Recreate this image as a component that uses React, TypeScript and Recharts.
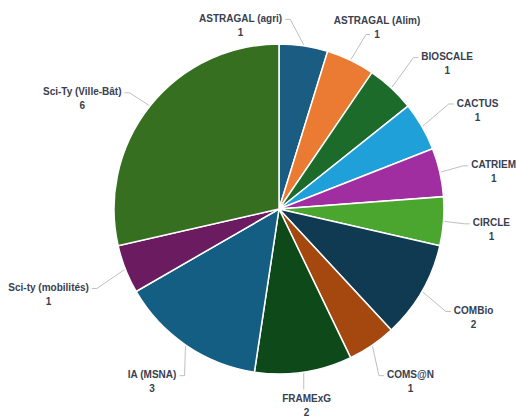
import { PieChart, Pie, Cell } from "recharts";

const projects = [
  "ASTRAGAL (agri)",
  "ASTRAGAL (Alim)",
  "BIOSCALE",
  "CACTUS",
  "CATRIEM",
  "CIRCLE",
  "COMBio",
  "COMS@N",
  "FRAMExG",
  "IA (MSNA)",
  "Sci-ty (mobilités)",
  "Sci-Ty (Ville-Bât)",
];
const counts = [1, 1, 1, 1, 1, 1, 2, 1, 2, 3, 1, 6];

const COLORS = [
  "#1b5c82",
  "#eb7a32",
  "#1d6b2a",
  "#20a0d8",
  "#a02ea0",
  "#4ba630",
  "#0f3a52",
  "#a4480f",
  "#0e4a19",
  "#145d83",
  "#6b1c60",
  "#356f1f",
];

// label block nudges (dx, dy) from the default spot around the pie
const LABEL_NUDGE: [number, number][] = [
  [-70, 26],
  [6, 9.5],
  [24, 10],
  [15, 7],
  [8, 10],
  [1, 5],
  [11, 2.5],
  [12, -2.5],
  [-4, -13],
  [-7.5, -2.5],
  [-33, 8],
  [-31, 22],
];

const data = projects.map((name, i) => ({ name, value: counts[i] }));

const FONT = "'Liberation Sans', Arial, sans-serif";
const RAD = Math.PI / 180;

let ctx: CanvasRenderingContext2D | null = null;
function textWidth(s: string) {
  if (!ctx) ctx = document.createElement("canvas").getContext("2d");
  if (!ctx) return s.length * 5.3;
  ctx.font = `bold 10px ${FONT}`;
  return ctx.measureText(s).width;
}

function renderLabel(props: any) {
  const { cx, cy, midAngle, outerRadius, index, name, value } = props;
  const cos = Math.cos(-midAngle * RAD);
  const sin = Math.sin(-midAngle * RAD);
  const R = outerRadius + 47;
  const [dx, dy] = LABEL_NUDGE[index];
  const tx = cx + R * cos + dx;
  const ty = cy + R * sin + dy;
  const ex = cx + (outerRadius + 1) * cos;
  const ey = cy + (outerRadius + 1) * sin;
  const hw = textWidth(name) / 2;

  let end: [number, number];
  let elbow: [number, number];
  if (tx - hw > ex + 4) {
    end = [tx - hw - 3, ty - 6];
    elbow = [end[0] - 5, end[1]];
  } else if (tx + hw < ex - 4) {
    end = [tx + hw + 3, ty - 6];
    elbow = [end[0] + 5, end[1]];
  } else if (ty < ey) {
    end = [tx - 7, ty + 7];
    elbow = [end[0] - 4, end[1]];
  } else {
    end = [ex, ty - 16];
    elbow = end;
  }

  return (
    <g>
      <polyline
        points={`${ex},${ey} ${elbow[0]},${elbow[1]} ${end[0]},${end[1]}`}
        fill="none"
        stroke="#bfbfbf"
        strokeWidth={1}
      />
      <text
        x={tx}
        y={ty - 7}
        textAnchor="middle"
        dominantBaseline="central"
        fill="#39404f"
        fontSize={10}
        fontWeight="bold"
        fontFamily={FONT}
      >
        {name}
      </text>
      <text
        x={tx}
        y={ty + 7}
        textAnchor="middle"
        dominantBaseline="central"
        fill="#39404f"
        fontSize={10}
        fontWeight="bold"
        fontFamily={FONT}
      >
        {value}
      </text>
    </g>
  );
}

export default function App() {
  return (
    <div style={{ position: "absolute", left: 0, top: 0, width: 516, height: 417, background: "#fff" }}>
      <PieChart width={516} height={417} margin={{ top: 0, right: 0, bottom: 0, left: 0 }}>
        <Pie
          data={data}
          dataKey="value"
          nameKey="name"
          cx={279}
          cy={209}
          outerRadius={165}
          startAngle={90}
          endAngle={-270}
          stroke="#ffffff"
          strokeWidth={1.5}
          label={renderLabel}
          labelLine={false}
          isAnimationActive={false}
        >
          {data.map((d, i) => (
            <Cell key={d.name} fill={COLORS[i]} />
          ))}
        </Pie>
      </PieChart>
    </div>
  );
}
